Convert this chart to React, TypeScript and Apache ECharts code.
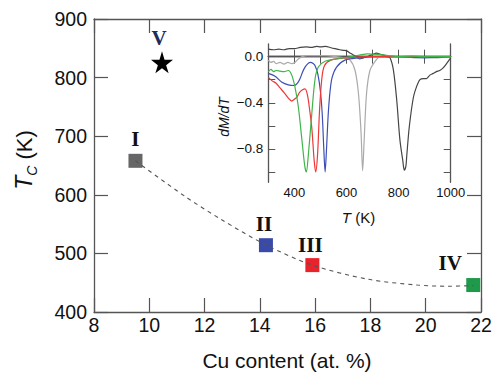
import React, { useEffect, useRef } from "react";
import * as echarts from "echarts";

// Main panel: Curie temperature vs Cu content
const sampleNames = ["I", "II", "III", "IV"];
const cuContent = [9.5, 14.22, 15.9, 21.72];
const tcValues = [658, 514, 480, 446];
const starName = "V";
const starCu = 10.46;
const starTc = 826;

// Dashed guide curve
const fitCu = [9.5, 11.3, 12.6, 14.2, 15.9, 17.9, 19.7, 20.8, 21.72];
const fitTc = [658, 597, 558, 515, 480, 456, 446, 444, 445];

// Main axis ticks
const xTicks = [8, 10, 12, 14, 16, 18, 20, 22];
const yTicks = [400, 500, 600, 700, 800, 900];

// Inset: dM/dT vs T
const insetXLabels = [400, 600, 800, 1000];
const insetYLabels = [0, -0.4, -0.8];
const insetYTicks = [0, -0.2, -0.4, -0.6, -0.8, -1.0];

const curveIV: number[][] = [[300,-0.13],[310,-0.11],[320,-0.13],[330,-0.12],[345,-0.125],[360,-0.13],[377,-0.12],[390,-0.16],[402,-0.26],[415,-0.43],[428,-0.7],[440,-0.95],[446,-1.0],[453,-0.87],[466,-0.52],[479,-0.2],[492,-0.09],[518,-0.04],[560,-0.02],[620,0.0],[680,0.025],[720,0.02],[760,0.01],[800,0.0],[850,0.005],[900,0.0],[950,0.0],[1000,0.0]];
const curveIII: number[][] = [[300,-0.18],[315,-0.21],[330,-0.23],[345,-0.27],[360,-0.31],[377,-0.36],[390,-0.385],[400,-0.37],[410,-0.35],[420,-0.31],[430,-0.29],[441,-0.28],[450,-0.33],[458,-0.45],[467,-0.62],[476,-0.9],[482,-1.0],[489,-0.85],[497,-0.45],[505,-0.2],[515,-0.08],[540,-0.03],[600,-0.01],[700,0.0],[800,0.0],[900,0.0],[1000,0.0]];
const curveII: number[][] = [[300,-0.145],[326,-0.17],[351,-0.22],[377,-0.245],[400,-0.25],[412,-0.23],[422,-0.19],[432,-0.13],[441,-0.09],[452,-0.06],[462,-0.05],[472,-0.06],[480,-0.08],[490,-0.15],[500,-0.3],[507,-0.5],[513,-0.8],[518,-1.0],[523,-0.82],[530,-0.5],[537,-0.3],[545,-0.18],[562,-0.09],[594,-0.03],[650,-0.01],[700,0.0],[800,0.0],[900,-0.01],[1000,0.0]];
const curveI: number[][] = [[300,-0.03],[310,-0.05],[320,-0.04],[330,-0.06],[345,-0.05],[360,-0.065],[375,-0.05],[390,-0.06],[402,-0.05],[415,-0.02],[430,0.0],[450,0.01],[480,0.01],[520,0.01],[560,0.0],[590,-0.01],[614,-0.03],[633,-0.12],[646,-0.32],[656,-0.66],[662,-0.99],[668,-0.72],[677,-0.32],[690,-0.12],[710,-0.04],[730,0.0],[780,0.0],[820,0.0],[860,-0.01],[900,-0.005],[950,-0.01],[1000,0.0]];
const curveV: number[][] = [[300,0.065],[320,0.06],[340,0.065],[360,0.06],[380,0.07],[400,0.07],[422,0.08],[445,0.085],[465,0.08],[486,0.09],[500,0.085],[520,0.09],[537,0.08],[555,0.07],[575,0.06],[590,0.055],[601,0.05],[615,0.03],[626,0.015],[640,0.0],[650,-0.02],[665,-0.01],[680,0.0],[700,0.02],[716,0.03],[730,0.02],[742,0.015],[755,0.0],[767,-0.01],[780,-0.115],[793,-0.38],[805,-0.72],[816,-0.9],[822,-0.985],[828,-0.95],[831,-0.87],[841,-0.61],[857,-0.35],[869,-0.26],[882,-0.2],[895,-0.19],[907,-0.19],[920,-0.16],[933,-0.145],[945,-0.13],[958,-0.12],[970,-0.1],[984,-0.06],[1000,-0.01]];

const SANS = "'Liberation Sans', Arial, sans-serif";
const SERIF = "'Liberation Serif', 'Times New Roman', serif";
const FRAME = "#555";
const markerColors = ["#666666", "#3a4aa8", "#e8232b", "#1f9a4a"];
const labelOffsets = [[0, -22], [-2, -21], [-2, -20], [-23, -22]];
const curveColors = { I: "#aaaaaa", II: "#3c4fb5", III: "#ee3838", IV: "#3fb54a", V: "#454545" };

export default function App() {
  const ref = useRef<HTMLDivElement>(null);
  useEffect(() => {
    if (!ref.current) return;
    const chart = echarts.init(ref.current, null, { renderer: "svg" });
    const axisLine = { show: true, lineStyle: { color: FRAME, width: 1.3 } };
    const mainTick = { show: true, inside: true, length: 14, lineStyle: { color: FRAME, width: 1.2 } };
    const insetTick = { show: true, inside: true, length: 7, lineStyle: { color: FRAME, width: 1 } };
    const fmtMinus = (v: number) => v.toFixed(1).replace("-", "\u2212");
    const labelStyle = {
      show: true,
      position: "inside",
      fontFamily: SERIF,
      fontWeight: "bold",
      fontSize: 21,
      color: "#111",
      opacity: 1,
      textShadowColor: "rgba(230,140,40,0.9)",
      textShadowOffsetX: -1,
      textShadowOffsetY: 0,
      textShadowBlur: 0,
    };

    const mainSeries: any[] = sampleNames.map((name, i) => ({
      type: "scatter",
      xAxisIndex: 0,
      yAxisIndex: 0,
      symbol: "rect",
      symbolSize: 14,
      z: 2,
      itemStyle: { color: markerColors[i], opacity: 1 },
      data: [[cuContent[i], tcValues[i]]],
      label: { ...labelStyle, offset: labelOffsets[i], formatter: name },
    }));
    mainSeries.push({
      type: "scatter",
      xAxisIndex: 0,
      yAxisIndex: 0,
      symbol: "path://M50,0 L61,35 L98,35 L68,57 L79,91 L50,70 L21,91 L32,57 L2,35 L39,35 Z",
      symbolSize: 22,
      itemStyle: { color: "#000", opacity: 1 },
      data: [[starCu, starTc]],
      label: { ...labelStyle, offset: [-3, -24], formatter: starName, color: "#1d2b5c" },
    });
    mainSeries.push({
      type: "line",
      xAxisIndex: 0,
      yAxisIndex: 0,
      smooth: 0.3,
      showSymbol: false,
      symbol: "none",
      z: 3,
      lineStyle: { color: "#555", width: 1.1, type: [4, 4] },
      data: fitCu.map((c, i) => [c, fitTc[i]]),
    });

    const insetCurves: [string, number[][]][] = [
      ["V", curveV],
      ["I", curveI],
      ["II", curveII],
      ["III", curveIII],
      ["IV", curveIV],
    ];
    const insetSeries = insetCurves.map(([k, d]) => ({
      type: "line",
      xAxisIndex: 2,
      yAxisIndex: 2,
      showSymbol: false,
      symbol: "none",
      smooth: 0.3,
      lineStyle: { color: (curveColors as any)[k], width: 1.2 },
      data: d,
    }));

    chart.setOption({
      animation: false,
      backgroundColor: "#fff",
      grid: [
        { left: 94, top: 19, width: 387, height: 293, outerBoundsMode: "none" },
        { left: 268.3, top: 44, width: 182.4, height: 138.3, outerBoundsMode: "none", backgroundColor: "#fff", show: true, borderWidth: 0 },
      ],
      xAxis: [
        {
          gridIndex: 0, type: "value", min: 8, max: 22, interval: 2, position: "bottom",
          axisLine, axisTick: mainTick, splitLine: { show: false },
          axisLabel: { fontSize: 19.5, color: "#111", fontFamily: SANS, margin: 3, customValues: xTicks, formatter: (v: number) => String(v) },
        },
        {
          gridIndex: 0, type: "value", min: 8, max: 22, interval: 2, position: "top",
          axisLine, axisTick: mainTick, splitLine: { show: false }, axisLabel: { show: false },
        },
        {
          gridIndex: 1, type: "value", min: 300, max: 1000, interval: 100, position: "bottom",
          axisLine, axisTick: insetTick, splitLine: { show: false },
          axisLabel: { fontSize: 13, color: "#111", fontFamily: SANS, margin: 4, customValues: insetXLabels, formatter: (v: number) => String(v) },
        },
        {
          gridIndex: 1, type: "value", min: 300, max: 1000, interval: 100, position: "top",
          axisLine, axisTick: insetTick, splitLine: { show: false }, axisLabel: { show: false },
        },
      ],
      yAxis: [
        {
          gridIndex: 0, type: "value", min: 400, max: 900, interval: 100, position: "left",
          axisLine, axisTick: mainTick, splitLine: { show: false },
          axisLabel: { fontSize: 19.5, color: "#111", fontFamily: SANS, margin: 7, customValues: yTicks, formatter: (v: number) => String(v) },
        },
        {
          gridIndex: 0, type: "value", min: 400, max: 900, interval: 100, position: "right",
          axisLine, axisTick: mainTick, splitLine: { show: false }, axisLabel: { show: false },
        },
        {
          gridIndex: 1, type: "value", min: -1.09, max: 0.11, position: "left",
          axisLine, axisTick: { ...insetTick, customValues: insetYTicks }, splitLine: { show: false },
          axisLabel: { fontSize: 13.5, color: "#111", fontFamily: SANS, margin: 5, customValues: insetYLabels, formatter: fmtMinus },
        },
        {
          gridIndex: 1, type: "value", min: -1.09, max: 0.11, position: "right",
          axisLine, axisTick: { ...insetTick, customValues: insetYTicks }, splitLine: { show: false }, axisLabel: { show: false },
        },
      ],
      graphic: [
        {
          type: "text", x: 287, y: 360,
          style: { text: "Cu content (at. %)", fontSize: 21, fontFamily: SANS, fill: "#111", align: "center", verticalAlign: "middle" },
        },
        {
          type: "text", x: 24, y: 160, rotation: Math.PI / 2,
          style: {
            text: "{t|T}{s|C}{n| (K)}",
            align: "center", verticalAlign: "middle", fill: "#111",
            rich: {
              t: { fontSize: 23, fontStyle: "italic", fontFamily: SANS, fill: "#111", lineHeight: 30 },
              s: { fontSize: 14, fontStyle: "italic", fontFamily: SANS, fill: "#111", lineHeight: 30, verticalAlign: "bottom", padding: [10, 0, 0, 0] },
              n: { fontSize: 22, fontFamily: SANS, fill: "#111", lineHeight: 30 },
            },
          },
        },
        {
          type: "text", x: 223.5, y: 117, rotation: Math.PI / 2,
          style: { text: "dM/dT", fontSize: 14, fontStyle: "italic", fontFamily: SANS, fill: "#111", align: "center", verticalAlign: "middle" },
        },
        {
          type: "text", x: 358.5, y: 217,
          style: {
            text: "{t|T}{n| (K)}", align: "center", verticalAlign: "middle", fill: "#111",
            rich: {
              t: { fontSize: 15, fontStyle: "italic", fontFamily: SANS, fill: "#111" },
              n: { fontSize: 15, fontFamily: SANS, fill: "#111" },
            },
          },
        },
      ],
      series: [...mainSeries, ...insetSeries],
    });
    return () => chart.dispose();
  }, []);
  return <div ref={ref} style={{ position: "absolute", left: 0, top: 0, width: 493, height: 373 }} />;
}
